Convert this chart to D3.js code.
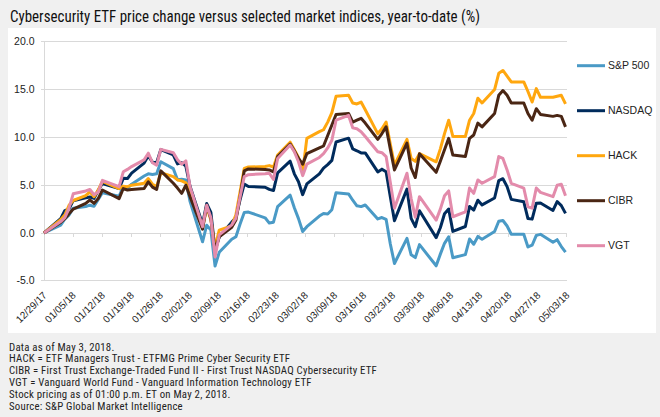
<!DOCTYPE html>
<html><head><meta charset="utf-8">
<script src="https://cdn.jsdelivr.net/npm/d3@7"></script>
<style>
html,body{margin:0;padding:0;background:#f0f0f0;}
svg{display:block;}
</style></head><body>
<svg id="chart" width="660" height="417"></svg>
<script>
// ---------- DATA ----------
const dates = ["2017-12-29",
"2018-01-02","2018-01-03","2018-01-04","2018-01-05","2018-01-08","2018-01-09","2018-01-10","2018-01-11","2018-01-12",
"2018-01-16","2018-01-17","2018-01-18","2018-01-19","2018-01-22","2018-01-23","2018-01-24","2018-01-25","2018-01-26",
"2018-01-29","2018-01-30","2018-01-31",
"2018-02-01","2018-02-02","2018-02-05","2018-02-06","2018-02-07","2018-02-08","2018-02-09","2018-02-12","2018-02-13",
"2018-02-14","2018-02-15","2018-02-16","2018-02-20","2018-02-21","2018-02-22","2018-02-23","2018-02-26","2018-02-27","2018-02-28",
"2018-03-01","2018-03-02","2018-03-05","2018-03-06","2018-03-07","2018-03-08","2018-03-09","2018-03-12","2018-03-13","2018-03-14",
"2018-03-15","2018-03-16","2018-03-19","2018-03-20","2018-03-21","2018-03-22","2018-03-23","2018-03-26","2018-03-27","2018-03-28","2018-03-29",
"2018-04-02","2018-04-03","2018-04-04","2018-04-05","2018-04-06","2018-04-09","2018-04-10","2018-04-11","2018-04-12","2018-04-13",
"2018-04-16","2018-04-17","2018-04-18","2018-04-19","2018-04-20","2018-04-23","2018-04-24","2018-04-25","2018-04-26","2018-04-27","2018-04-30",
"2018-05-01","2018-05-02","2018-05-03"];

const sp500 = [0,
0.83,1.48,1.88,2.60,2.77,2.91,2.79,3.51,4.21,3.85,4.82,4.65,5.11,5.96,6.19,6.13,6.19,7.45,6.73,5.57,5.62,
5.55,3.31,-0.92,0.81,0.30,-3.46,-2.02,-0.66,-0.40,0.94,2.15,2.19,1.59,1.04,1.13,2.76,3.96,2.64,1.50,
0.15,0.66,1.77,2.04,1.99,2.44,4.22,4.09,3.43,2.84,2.76,2.93,1.47,1.62,1.43,-1.12,-3.19,-0.56,-2.28,-2.57,-1.22,
-3.43,-2.21,-1.08,-0.40,-2.59,-2.26,-0.63,-1.18,-0.36,-0.65,0.16,1.23,1.31,0.73,-0.13,-0.13,-1.46,-1.28,-0.25,-0.14,-0.96,
-0.70,-1.42,-2.00];

const nasdaq = [0,
1.50,2.35,2.53,3.38,3.68,3.77,3.62,4.47,5.18,4.64,5.72,5.69,6.27,7.31,8.07,7.41,7.36,8.73,8.16,7.23,7.36,
6.99,4.89,0.93,3.08,2.15,-1.83,-0.42,1.14,1.60,3.48,5.11,4.87,4.79,4.56,4.44,6.29,7.51,6.19,5.36,
4.01,5.13,6.19,6.79,7.15,7.60,9.52,9.92,8.80,8.60,8.38,8.38,6.39,6.68,6.40,3.81,1.29,4.59,1.53,0.66,2.32,
-0.48,0.55,2.01,2.51,0.17,0.68,2.77,2.40,3.43,2.94,3.66,5.47,5.68,4.85,3.52,3.26,1.51,1.45,3.12,3.14,2.36,
3.29,2.86,2.05];

const hack = [0,
1.4,1.9,2.9,3.4,3.9,4.3,3.8,4.5,5.4,4.65,4.9,4.85,5.0,5.2,5.7,5.1,4.85,6.3,5.9,5.55,5.45,
5.25,4.5,0.5,2.75,1.35,-1.5,0.3,0.75,1.9,4.3,6.75,6.9,6.95,7.05,6.9,8.15,9.5,8.7,7.9,
6.4,9.9,10.6,10.8,11.6,12.6,14.3,14.4,13.6,13.5,13.7,12.9,10.4,10.9,11.6,9.3,7.1,9.8,7.8,7.5,8.3,
7.45,8.8,10.4,11.8,10.1,10.1,11.8,12.5,14.1,13.6,15.0,16.7,17.0,16.4,15.8,15.8,14.8,13.7,15.1,14.2,14.2,
14.3,14.4,13.5];

const cibr = [0,
1.1,1.5,2.0,2.5,3.1,3.45,3.1,3.6,4.5,3.6,4.65,4.5,4.55,4.65,5.35,4.8,4.55,6.5,5.2,4.7,4.15,
5.0,3.8,0.4,2.9,1.5,-1.8,-0.4,0.6,1.35,3.8,6.5,6.7,6.65,6.6,6.4,8.0,9.3,8.6,7.8,
7.2,8.3,8.9,9.1,10.2,11.3,12.4,12.5,11.6,11.8,12.0,11.5,9.8,10.4,11.1,8.8,6.6,9.4,6.8,5.8,8.3,
6.35,7.5,8.7,9.9,8.15,8.0,9.9,10.25,11.5,11.1,12.5,14.4,14.9,14.4,13.6,13.6,12.5,11.8,13.0,12.4,12.2,
12.3,12.2,11.1];

const vgt = [0,
1.2,1.6,2.6,4.1,4.4,4.55,4.0,4.3,5.5,4.85,6.4,6.65,6.95,7.65,8.35,7.35,7.1,8.75,8.4,7.65,7.2,
7.55,4.85,0.65,2.9,1.6,-2.5,-0.2,0.85,1.55,3.8,5.9,6.1,6.2,6.25,5.6,7.8,9.2,8.5,7.45,
6.0,7.2,7.9,8.3,8.9,9.7,11.8,12.3,11.0,10.9,10.6,10.1,8.5,8.4,8.0,5.3,2.6,6.25,3.6,1.65,3.8,
1.35,2.5,3.9,4.4,1.7,2.2,4.7,4.15,5.55,5.2,5.9,8.0,7.8,6.6,5.2,4.7,2.75,2.6,4.7,4.25,3.8,
5.0,5.1,3.9];

const seriesNames = ["S&P 500","NASDAQ","HACK","CIBR","VGT"];
const seriesValues = [sp500, nasdaq, hack, cibr, vgt];
const seriesColors = ["#4a9ac6","#002b5c","#ffa70f","#4a2614","#e38bab"];

const tickLabels = ["12/29/17","01/05/18","01/12/18","01/19/18","01/26/18","02/02/18","02/09/18","02/16/18",
"02/23/18","03/02/18","03/09/18","03/16/18","03/23/18","03/30/18","04/06/18","04/13/18","04/20/18","04/27/18","05/03/18"];
const yTicks = [-5,0,5,10,15,20];

const titleText = "Cybersecurity ETF price change versus selected market indices, year-to-date (%)";
const footnotes = [
"Data as of May 3, 2018.",
"HACK = ETF Managers Trust - ETFMG Prime Cyber Security ETF",
"CIBR = First Trust Exchange-Traded Fund II - First Trust NASDAQ Cybersecurity ETF",
"VGT = Vanguard World Fund - Vanguard Information Technology ETF",
"Stock pricing as of 01:00 p.m. ET on May 2, 2018.",
"Source: S&P Global Market Intelligence"];

// ---------- LAYOUT ----------
const W = 660, H = 417;
const plot = {left:44, right:566.6, top:41.8, bottom:280.8};
const narrow = "'Liberation Sans Narrow','Roboto Condensed','DejaVu Sans Condensed','Liberation Sans',Arial,sans-serif";
const sans = "'Liberation Sans',Arial,sans-serif";

const svg = d3.select("#chart");
svg.append("rect").attr("width",W).attr("height",H).attr("fill","#f0f0f0");
svg.append("rect").attr("x",8).attr("y",28).attr("width",648).attr("height",305).attr("fill","#ffffff");

// title
svg.append("text").attr("x",10).attr("y",21.5)
  .attr("font-family",narrow).attr("font-size",16.5).attr("fill","#111")
  .attr("textLength",470).attr("lengthAdjust","spacingAndGlyphs")
  .text(titleText);

const parse = d3.utcParse("%Y-%m-%d");
const xDates = dates.map(parse);
const x = d3.scaleUtc().domain(d3.extent(xDates)).range([plot.left, 565.5]);
const xTick = d3.scalePoint().domain(tickLabels).range([plot.left, plot.right]);
const y = d3.scaleLinear().domain([-5,20]).range([plot.bottom, plot.top]);

// gridlines
const grid = svg.append("g");
grid.selectAll("line").data(yTicks).join("line")
  .attr("x1",plot.left-3).attr("x2",567).attr("y1",d=>y(d)).attr("y2",d=>y(d))
  .attr("stroke","#d9d9d9").attr("stroke-width",1).attr("shape-rendering","crispEdges");
svg.append("line").attr("x1",plot.left).attr("x2",plot.left).attr("y1",y(20)).attr("y2",y(-5))
  .attr("stroke","#d9d9d9").attr("shape-rendering","crispEdges");

// y labels
svg.append("g").selectAll("text").data(yTicks).join("text")
  .attr("x",34.5).attr("y",d=>y(d)).attr("dy","0.35em").attr("text-anchor","end")
  .attr("font-family",sans).attr("font-size",10.5).attr("fill","#222")
  .text(d=>d.toFixed(1));

// x ticks at zero line
svg.append("g").selectAll("line").data(tickLabels).join("line")
  .attr("x1",d=>xTick(d)).attr("x2",d=>xTick(d)).attr("y1",y(0)).attr("y2",y(0)+4)
  .attr("stroke","#d9d9d9").attr("shape-rendering","crispEdges");

// x labels
svg.append("g").selectAll("text").data(tickLabels).join("text")
  .attr("transform",d=>`translate(${xTick(d)+3.5},296) rotate(-45)`)
  .attr("text-anchor","end")
  .attr("font-family",sans).attr("font-size",10).attr("fill","#222")
  .text(d=>d);

// lines
const line = d3.line().x((d,i)=>x(xDates[i])).y(d=>y(d));
svg.append("g").selectAll("path").data(seriesValues).join("path")
  .attr("d",d=>line(d)).attr("fill","none")
  .attr("stroke",(d,i)=>seriesColors[i]).attr("stroke-width",3)
  .attr("stroke-linejoin","round");

// legend
const lg = svg.append("g").selectAll("g").data(seriesNames).join("g")
  .attr("transform",(d,i)=>`translate(577,${65.7+i*45})`);
lg.append("line").attr("x1",0).attr("x2",28).attr("y1",0).attr("y2",0)
  .attr("stroke",(d,i)=>seriesColors[i]).attr("stroke-width",3);
lg.append("text").attr("x",31).attr("y",0).attr("dy","0.35em")
  .attr("font-family",sans).attr("font-size",10.5).attr("fill","#222").text(d=>d);

// footnotes
svg.append("g").selectAll("text").data(footnotes).join("text")
  .attr("x",9).attr("y",(d,i)=>350.5+i*11.8)
  .attr("font-family",narrow).attr("font-size",10.8).attr("letter-spacing",0.22).attr("fill","#222")
  .text(d=>d);
</script>
</body></html>
